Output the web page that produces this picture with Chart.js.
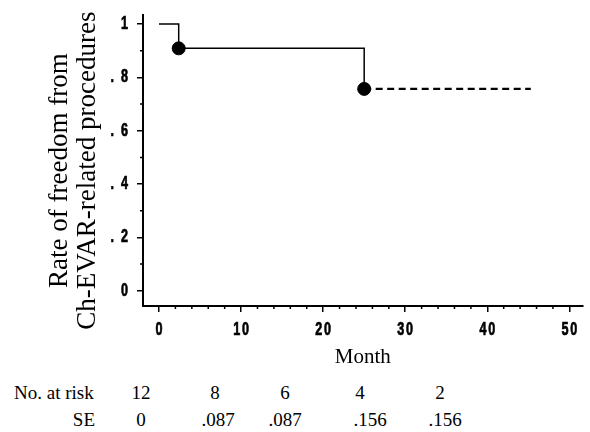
<!DOCTYPE html>
<html>
<head>
<meta charset="utf-8">
<script src="https://cdn.jsdelivr.net/npm/chart.js@4.4.1/dist/chart.umd.min.js"></script>
<style>
  html, body { margin: 0; padding: 0; background: #fff; }
  #wrap { position: relative; width: 590px; height: 432px; overflow: hidden; }
  #kmChart { position: absolute; left: 0; top: 0; }
  .cell {
    position: absolute;
    font-family: "Liberation Serif", "Times New Roman", serif;
    font-size: 19px;
    line-height: 20px;
    color: #000;
    white-space: nowrap;
  }
</style>
</head>
<body>
<div id="wrap">
  <canvas id="kmChart" width="590" height="375"></canvas>
</div>
<script>
// ================== DATA ================== //
const eventMonths = [0, 2.4, 25];          // step positions (start + events)
const survival = [1, 0.909, 0.757];         // rate after each step
const censorEnd = 45.3;                     // end of dashed tail
const xTicks = [0, 10, 20, 30, 40, 50];
const yTicks = [0, 0.2, 0.4, 0.6, 0.8, 1];
const yTickLabels = ["0", ". 2", ". 4", ". 6", ". 8", "1"];
const riskCounts = ["12", "8", "6", "4", "2"];
const seValues = ["0", ".087", ".087", ".156", ".156"];

// layout of the table under the chart (pixels)
const riskColX = [141, 215, 285, 360, 440];
const seColX = [141, 218, 285, 370, 445];

// ================== TABLE ================== //
function buildRiskTable() {
  const wrap = document.getElementById("wrap");
  const add = (text, x, y, align) => {
    const s = document.createElement("span");
    s.className = "cell";
    s.textContent = text;
    s.style.top = y + "px";
    if (align === "right") {
      s.style.right = 590 - x + "px";
    } else if (align === "left") {
      s.style.left = x + "px";
    } else {
      s.style.left = x + "px";
      s.style.transform = "translateX(-50%)";
    }
    wrap.appendChild(s);
  };
  add("No. at risk", 14, 383, "left");
  add("SE", 95, 410, "right");
  riskCounts.forEach((v, i) => add(v, riskColX[i], 383));
  seValues.forEach((v, i) => add(v, seColX[i], 410));
}

// ================== MINOR TICKS + NARROW LABELS ================== //
const axisExtras = {
  id: "axisExtras",
  afterDraw(chart) {
    const { ctx, chartArea, scales } = chart;
    ctx.save();
    ctx.strokeStyle = "#000";
    ctx.lineWidth = 1.5;
    ctx.beginPath();
    for (let v = 0.1; v < 1; v += 0.2) {
      const y = scales.y.getPixelForValue(v);
      ctx.moveTo(chartArea.left, y);
      ctx.lineTo(chartArea.left - 3, y);
    }
    for (let v = 2; v < 50; v += 2) {
      if (v % 10 === 0) continue;
      const x = scales.x.getPixelForValue(v);
      ctx.moveTo(x, chartArea.bottom);
      ctx.lineTo(x, chartArea.bottom + 3);
    }
    ctx.stroke();

    // condensed bold tick labels
    ctx.fillStyle = "#000";
    ctx.lineWidth = 0.7;
    ctx.font = "bold 18px 'Liberation Sans', Arial, sans-serif";
    ctx.letterSpacing = "2.5px";
    ctx.textBaseline = "middle";
    const put = (text, x, y, align) => {
      ctx.save();
      ctx.translate(x, y);
      ctx.scale(0.7, 1);
      ctx.textAlign = align;
      const dx = align === "right" ? 2.5 : 1.25;
      ctx.fillText(text, dx, 0);
      ctx.strokeText(text, dx, 0);
      ctx.restore();
    };
    xTicks.forEach((v) => {
      put(String(v), scales.x.getPixelForValue(v), chartArea.bottom + 24, "center");
    });
    yTicks.forEach((v, i) => {
      put(yTickLabels[i], chartArea.left - 15, scales.y.getPixelForValue(v), "right");
    });
    ctx.restore();
  },
};

// ================== CHART ================== //
const serif = "'Liberation Serif', 'Times New Roman', serif";
const pad = "\u00a0\u00a0\u00a0"; // nudges the rotated title down a little

const stepPoints = eventMonths.map((m, i) => ({ x: m, y: survival[i] }));
const lastIdx = survival.length - 1;

new Chart(document.getElementById("kmChart"), {
  type: "line",
  data: {
    datasets: [
      {
        data: stepPoints,
        stepped: "before",
        borderColor: "#000",
        borderWidth: 1.5,
        pointRadius: 0,
        fill: false,
      },
      {
        data: [
          { x: eventMonths[lastIdx], y: survival[lastIdx] },
          { x: censorEnd, y: survival[lastIdx] },
        ],
        borderColor: "#000",
        borderWidth: 2.2,
        borderDash: [7, 4.5],
        pointRadius: 0,
        fill: false,
      },
      {
        type: "scatter",
        data: stepPoints.slice(1),
        pointRadius: 6.5,
        pointBackgroundColor: "#000",
        pointBorderColor: "#000",
        showLine: false,
      },
    ],
  },
  options: {
    responsive: false,
    animation: false,
    layout: { padding: { top: 15, left: 0, right: 0, bottom: 0 } },
    plugins: {
      legend: { display: false },
      tooltip: { enabled: false },
    },
    scales: {
      x: {
        type: "linear",
        min: -1.95,
        max: 51.6,
        afterBuildTicks: (s) => {
          s.ticks = xTicks.map((v) => ({ value: v }));
        },
        afterFit: (s) => {
          s.height = 69;
        },
        grid: {
          drawOnChartArea: false,
          drawTicks: true,
          tickLength: 6,
          color: "#000",
          lineWidth: 1.5,
        },
        border: { display: true, color: "#000", width: 2 },
        ticks: { display: false },
        title: {
          display: true,
          text: "Month",
          color: "#000",
          font: { family: serif, size: 21 },
          padding: { top: 0, bottom: 5 },
        },
      },
      y: {
        type: "linear",
        min: -0.057,
        max: 1.034,
        afterBuildTicks: (s) => {
          s.ticks = yTicks.map((v) => ({ value: v }));
        },
        afterFit: (s) => {
          s.width = 143;
        },
        grid: {
          drawOnChartArea: false,
          drawTicks: true,
          tickLength: 6,
          color: "#000",
          lineWidth: 1.5,
        },
        border: { display: true, color: "#000", width: 2 },
        ticks: { display: false },
        title: {
          display: true,
          text: ["Rate of freedom from" + pad, "Ch-EVAR-related procedures" + pad],
          color: "#000",
          font: { family: serif, size: 27, lineHeight: 1.04 },
          padding: { top: 46, bottom: 0 },
        },
      },
    },
  },
  plugins: [axisExtras],
});

buildRiskTable();
</script>
</body>
</html>
